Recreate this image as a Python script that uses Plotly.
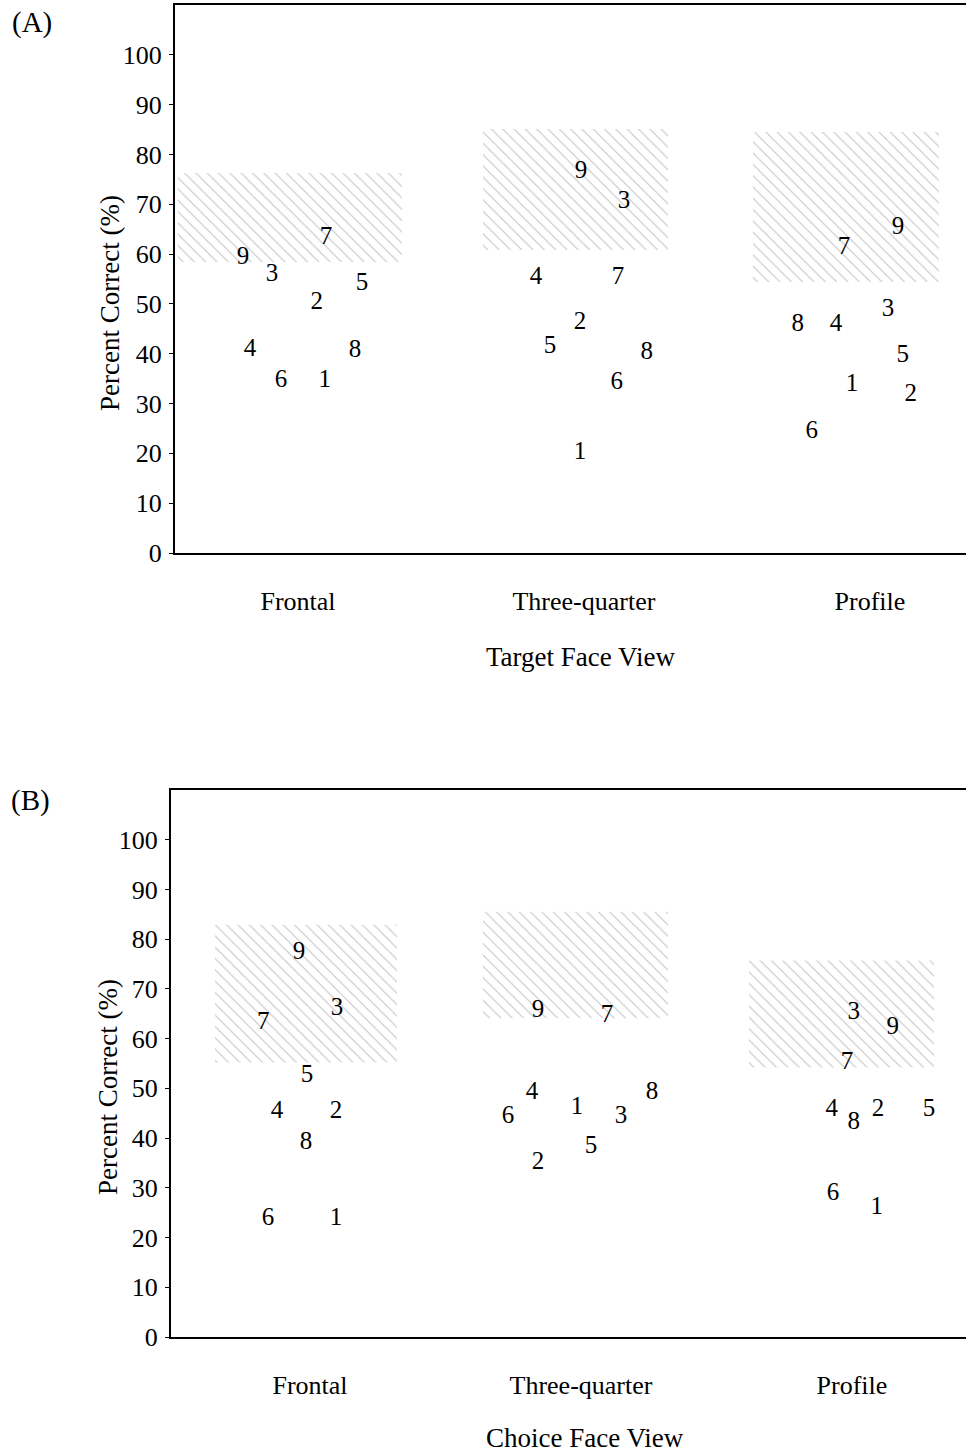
import plotly.graph_objects as go

# ---------------- data ----------------
views = ["Frontal", "Three-quarter", "Profile"]
view_pos = [1, 2, 3]
labels = ["1", "2", "3", "4", "5", "6", "7", "8", "9"]

# Panel A: Target face view  (x = horizontal placement around category, y = percent correct)
a_frontal_x = [1.094, 1.066, 0.909, 0.832, 1.224, 0.941, 1.098, 1.199, 0.808]
a_frontal_y = [34.5, 50.2, 55.8, 40.8, 54.0, 34.5, 63.3, 40.6, 59.2]
a_three_x = [1.986, 1.986, 2.140, 1.832, 1.881, 2.115, 2.119, 2.220, 1.990]
a_three_y = [20.1, 46.2, 70.5, 55.2, 41.4, 34.1, 55.2, 40.2, 76.5]
a_profile_x = [2.937, 3.143, 3.063, 2.881, 3.115, 2.797, 2.909, 2.748, 3.098]
a_profile_y = [33.7, 31.7, 48.8, 45.8, 39.6, 24.3, 61.2, 45.8, 65.3]
a_box_x0 = [0.580, 1.647, 2.591]
a_box_x1 = [1.364, 2.294, 3.241]
a_box_y0 = [58.4, 60.8, 54.4]
a_box_y1 = [76.3, 85.1, 84.5]

# Panel B: Choice face view
b_frontal_x = [1.096, 1.096, 1.100, 0.878, 0.989, 0.845, 0.827, 0.985, 0.959]
b_frontal_y = [23.7, 45.2, 66.1, 45.2, 52.6, 23.7, 63.1, 39.0, 77.3]
b_three_x = [1.985, 1.841, 2.148, 1.819, 2.037, 1.731, 2.096, 2.262, 1.841]
b_three_y = [46.2, 35.1, 44.2, 49.2, 38.2, 44.2, 64.7, 49.2, 65.7]
b_profile_x = [3.092, 3.096, 3.007, 2.926, 3.284, 2.930, 2.982, 3.007, 3.151]
b_profile_y = [25.9, 45.8, 65.3, 45.8, 45.6, 28.9, 55.2, 43.0, 62.2]
b_box_x0 = [0.649, 1.638, 2.620]
b_box_x1 = [1.321, 2.321, 3.303]
b_box_y0 = [55.2, 64.1, 54.2]
b_box_y1 = [82.9, 85.5, 75.7]

y_ticks = [0, 10, 20, 30, 40, 50, 60, 70, 80, 90, 100]

# ---------------- figure ----------------
W, H = 966, 1454
FONT = "Liberation Serif, Times New Roman, serif"
fig = go.Figure()


def add_panel(xa, ya, box_x0, box_x1, box_y0, box_y1, groups):
    for x0, x1, y0, y1 in zip(box_x0, box_x1, box_y0, box_y1):
        fig.add_trace(go.Scatter(
            x=[x0, x1, x1, x0, x0], y=[y0, y0, y1, y1, y0],
            mode="lines", fill="toself", line=dict(width=0, color="rgba(0,0,0,0)"),
            fillcolor="rgba(255,255,255,0)",
            fillpattern=dict(shape="\\", fgcolor="#8a8a8a", bgcolor="white",
                             size=8, solidity=0.14),
            xaxis=xa, yaxis=ya, showlegend=False, hoverinfo="skip"))
    for gx, gy in groups:
        fig.add_trace(go.Scatter(
            x=gx, y=gy, mode="text", text=labels,
            textfont=dict(family=FONT, size=25, color="black"),
            xaxis=xa, yaxis=ya, showlegend=False))


add_panel("x", "y", a_box_x0, a_box_x1, a_box_y0, a_box_y1,
          [(a_frontal_x, a_frontal_y), (a_three_x, a_three_y), (a_profile_x, a_profile_y)])
add_panel("x2", "y2", b_box_x0, b_box_x1, b_box_y0, b_box_y1,
          [(b_frontal_x, b_frontal_y), (b_three_x, b_three_y), (b_profile_x, b_profile_y)])

xcommon = dict(showline=True, linecolor="black", linewidth=2, mirror=True,
               showgrid=False, zeroline=False, ticks="", automargin=False,
               tickmode="array", tickvals=view_pos, ticktext=views,
               tickfont=dict(family=FONT, size=26, color="black"),
               ticklabelstandoff=24)
ycommon = dict(showline=True, linecolor="black", linewidth=2, mirror=False,
               showgrid=False, zeroline=False, ticks="outside", ticklen=4,
               tickwidth=1, tickcolor="black", range=[0, 110], automargin=False,
               tickmode="array", tickvals=y_ticks,
               tickfont=dict(family=FONT, size=26, color="black"),
               ticklabelstandoff=2)

fig.update_layout(
    width=W, height=H, margin=dict(l=0, r=0, t=0, b=0, pad=0), autosize=False,
    paper_bgcolor="white", plot_bgcolor="white",
    xaxis=dict(domain=[175 / W, 1], range=[0.570, 3.336], anchor="y", **xcommon),
    yaxis=dict(domain=[1 - 553 / H, 1 - 5 / H], anchor="x", **ycommon),
    xaxis2=dict(domain=[171 / W, 1], range=[0.487, 3.421], anchor="y2", **xcommon),
    yaxis2=dict(domain=[1 - 1337 / H, 1 - 790 / H], anchor="x2", **ycommon),
)

ann = dict(xref="paper", yref="paper", showarrow=False, xanchor="center", yanchor="middle",
           font=dict(family=FONT, size=27, color="black"))
panel_font = dict(family=FONT, size=29, color="black")
fig.add_annotation(text="(A)", x=32 / W, y=1 - 22 / H, xref="paper", yref="paper",
                   showarrow=False, xanchor="center", yanchor="middle", font=panel_font)
fig.add_annotation(text="(B)", x=30 / W, y=1 - 800 / H, xref="paper", yref="paper",
                   showarrow=False, xanchor="center", yanchor="middle", font=panel_font)
fig.add_annotation(text="Percent Correct (%)", x=110 / W, y=1 - 303 / H, textangle=-90, **ann)
fig.add_annotation(text="Percent Correct (%)", x=108 / W, y=1 - 1087 / H, textangle=-90, **ann)
fig.add_annotation(text="Target Face View", x=580 / W, y=1 - 657 / H, **ann)
fig.add_annotation(text="Choice Face View", x=585 / W, y=1 - 1438 / H, **ann)

fig.write_html("out.html")
